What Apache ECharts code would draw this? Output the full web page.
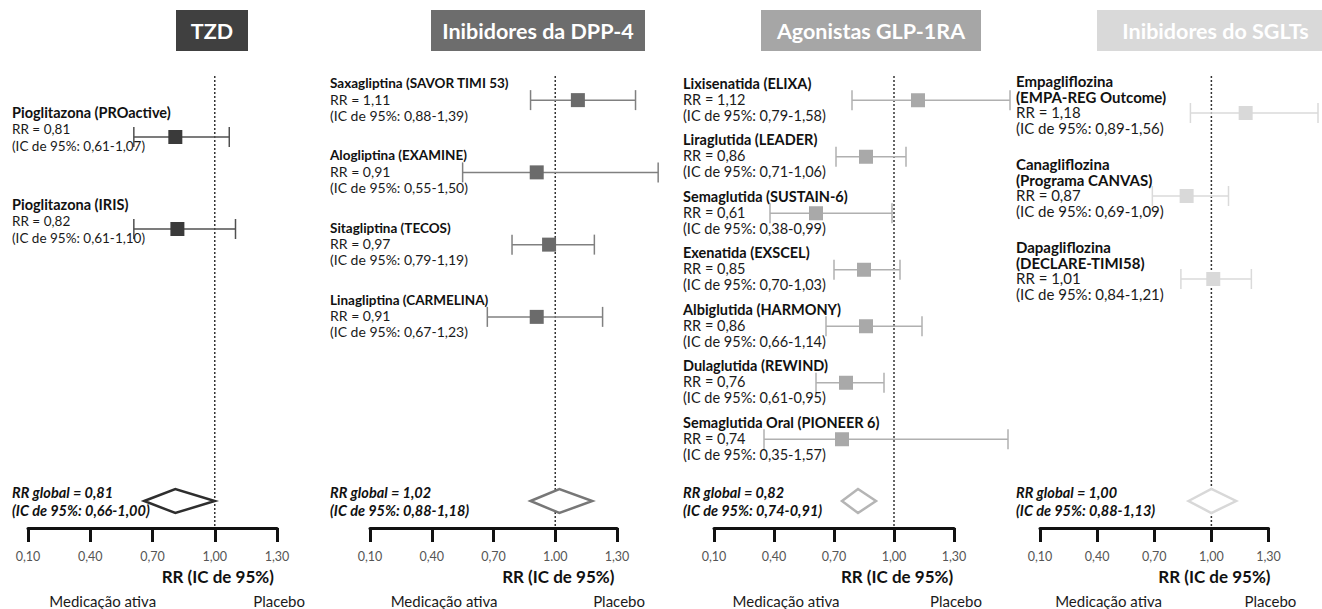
<!DOCTYPE html>
<html>
<head>
<meta charset="utf-8">
<script src="https://cdn.jsdelivr.net/npm/echarts@6/dist/echarts.min.js"></script>
<style>
  html, body { margin: 0; padding: 0; background: #fff; }
  #chart { width: 1322px; height: 609px; }
</style>
</head>
<body>
<div id="chart"></div>
<script>
// ---- data -------------------------------------------------------------
const panelTitles = ['TZD', 'Inibidores da DPP-4', 'Agonistas GLP-1RA', 'Inibidores do SGLTs'];

const tzdTrials = ['Pioglitazona (PROactive)', 'Pioglitazona (IRIS)'];
const tzdRR   = [0.81, 0.82];
const tzdLow  = [0.61, 0.61];
const tzdHigh = [1.07, 1.10];

const dppTrials = ['Saxagliptina (SAVOR TIMI 53)', 'Alogliptina (EXAMINE)', 'Sitagliptina (TECOS)', 'Linagliptina (CARMELINA)'];
const dppRR   = [1.11, 0.91, 0.97, 0.91];
const dppLow  = [0.88, 0.55, 0.79, 0.67];
const dppHigh = [1.39, 1.50, 1.19, 1.23];

const glpTrials = ['Lixisenatida (ELIXA)', 'Liraglutida (LEADER)', 'Semaglutida (SUSTAIN-6)', 'Exenatida (EXSCEL)',
                   'Albiglutida (HARMONY)', 'Dulaglutida (REWIND)', 'Semaglutida Oral (PIONEER 6)'];
const glpRR   = [1.12, 0.86, 0.61, 0.85, 0.86, 0.76, 0.74];
const glpLow  = [0.79, 0.71, 0.38, 0.70, 0.66, 0.61, 0.35];
const glpHigh = [1.58, 1.06, 0.99, 1.03, 1.14, 0.95, 1.57];

const sgltTrials = ['Empagliflozina\n(EMPA-REG Outcome)', 'Canagliflozina\n(Programa CANVAS)', 'Dapagliflozina\n(DECLARE-TIMI58)'];
const sgltRR   = [1.18, 0.87, 1.01];
const sgltLow  = [0.89, 0.69, 0.84];
const sgltHigh = [1.56, 1.09, 1.21];

// pooled estimate of each class
const globalRR   = [0.81, 1.02, 0.82, 1.00];
const globalLow  = [0.66, 0.88, 0.74, 0.88];
const globalHigh = [1.00, 1.18, 0.91, 1.13];

// line of no effect
const noEffectRR = 1.00;

// x axis
const tickValues = [0.10, 0.40, 0.70, 1.00, 1.30];
const tickLabels = [
  ['0,10', '0,40', '0,70', '1,00', '1,30'],
  ['0,10', '0,40', '0,70', '1.00', '1,30'],
  ['0,10', '0,40', '0,70', '1,00', '1,30'],
  ['0,10', '0,40', '0,70', '1,00', '1,30']
];
const axisTitle = 'RR (IC de 95%)';
const favoursLeft = 'Medicação ativa';
const favoursRight = 'Placebo';

// ---- layout & colours ---------------------------------------------------
const FONT = "Lato, 'Open Sans', sans-serif";
const AXIS_MIN = tickValues[0];
const AXIS_MAX = tickValues[tickValues.length - 1];
const AXIS_TOP = 76, AXIS_Y = 528;

const panels = [
  { trials: tzdTrials,  rr: tzdRR,  lo: tzdLow,  hi: tzdHigh },
  { trials: dppTrials,  rr: dppRR,  lo: dppLow,  hi: dppHigh },
  { trials: glpTrials,  rr: glpRR,  lo: glpLow,  hi: glpHigh },
  { trials: sgltTrials, rr: sgltRR, lo: sgltLow, hi: sgltHigh }
];

// per panel: plot extent, text column, row band, type sizes and greys
const look = [
  { left: 28,   width: 249,   textX: 12,   rowTop: 91,   rowH: 184,   shift: -8, bold: 14.5, norm: 13.5, lh: 16.5,
    boxX: 176,  boxW: 72,  boxColor: '#404040', mark: '#3a3a3a', whisker: '#505050', diamond: '#2e2e2e' },
  { left: 370,  width: 247,   textX: 330,  rowTop: 64,   rowH: 289,   shift: -1, bold: 13.5, norm: 14,   lh: 16,
    boxX: 431,  boxW: 214, boxColor: '#6d6d6d', mark: '#6b6b6b', whisker: '#808080', diamond: '#777777' },
  { left: 714,  width: 240,   textX: 683,  rowTop: 72,   rowH: 395.5, shift: -1, bold: 14.5, norm: 14.5, lh: 16,
    boxX: 761,  boxW: 220, boxColor: '#a6a6a6', mark: '#a9a9a9', whisker: '#b0b0b0', diamond: '#b5b5b5' },
  { left: 1040, width: 228.5, textX: 1016, rowTop: 71.5, rowH: 249,   shift: -1, bold: 15,   norm: 15,   lh: 15.5,
    boxX: 1097, boxW: 240, boxColor: '#d9d9d9', mark: '#d9d9d9', whisker: '#dadada', diamond: '#d8d8d8' }
];

const fmt = v => v.toFixed(2).replace('.', ',');
const xAt = (k, v) => look[k].left + (v - AXIS_MIN) / (AXIS_MAX - AXIS_MIN) * look[k].width;

// ---- renderers ------------------------------------------------------------
// one trial: CI whisker with end caps, square at the point estimate, text block on the left
function trialRenderer(k) {
  const L = look[k], P = panels[k];
  return function (params, api) {
    const rr = api.value(0), lo = api.value(1), hi = api.value(2), row = api.value(3);
    const c = api.coord([rr, row]);
    const a = api.coord([lo, row]);
    const b = api.coord([hi, row]);
    const y = c[1], half = 7, cap = 10, lh = L.lh;
    const nameLines = P.trials[params.dataIndex].split('\n');
    const text = nameLines.map(s => '{b|' + s + '}').join('\n') +
      '\n{n|RR = ' + fmt(rr) + '}\n{n|(IC de 95%: ' + fmt(lo) + '-' + fmt(hi) + ')}';
    const ls = { stroke: L.whisker, lineWidth: 1.5 };
    return {
      type: 'group',
      children: [
        { type: 'line', shape: { x1: a[0], y1: y, x2: b[0], y2: y }, style: ls },
        { type: 'line', shape: { x1: a[0], y1: y - cap, x2: a[0], y2: y + cap }, style: ls },
        { type: 'line', shape: { x1: b[0], y1: y - cap, x2: b[0], y2: y + cap }, style: ls },
        { type: 'rect', shape: { x: c[0] - half, y: y - half, width: 2 * half, height: 2 * half },
          style: { fill: L.mark } },
        { type: 'text', x: L.textX, y: y + L.shift - (nameLines.length + 0.5) * lh,
          style: {
            text: text, align: 'left', verticalAlign: 'top',
            rich: {
              b: { fontFamily: FONT, fontWeight: 'bold', fontSize: L.bold, lineHeight: lh, fill: '#111111' },
              n: { fontFamily: FONT, fontWeight: 'normal', fontSize: L.norm, lineHeight: lh, fill: '#1a1a1a' }
            }
          } }
      ]
    };
  };
}

// pooled estimate: open diamond just above the axis, with its caption
function pooledRenderer(k) {
  const L = look[k];
  return function (params, api) {
    const rr = api.value(0), lo = api.value(1), hi = api.value(2);
    const cs = params.coordSys;
    const y = cs.y + cs.height - 27, h = 12;
    const xm = api.coord([rr, 0])[0], xl = api.coord([lo, 0])[0], xh = api.coord([hi, 0])[0];
    return {
      type: 'group',
      children: [
        { type: 'polygon', shape: { points: [[xl, y], [xm, y - h], [xh, y], [xm, y + h]] },
          style: { fill: '#ffffff', stroke: L.diamond, lineWidth: 2.5 } },
        { type: 'text', x: L.textX, y: y - 17.5,
          style: {
            text: 'RR global = ' + fmt(rr) + '\n(IC de 95%: ' + fmt(lo) + '-' + fmt(hi) + ')',
            fontFamily: FONT, fontWeight: 'bold', fontStyle: 'italic', fontSize: 14.5, lineHeight: 18,
            fill: '#111111', align: 'left', verticalAlign: 'top'
          } }
      ]
    };
  };
}

// dotted vertical line at RR = 1
function noEffectRenderer(params, api) {
  const cs = params.coordSys;
  const x = api.coord([api.value(0), 0])[0];
  return { type: 'line', shape: { x1: x, y1: cs.y, x2: x, y2: cs.y + cs.height },
           style: { stroke: '#333333', lineWidth: 1.5, lineDash: [2, 2] } };
}

// ---- option ---------------------------------------------------------------
const grid = [], xAxis = [], yAxis = [], series = [], graphic = [];

panels.forEach((P, k) => {
  const L = look[k];
  const gAxis = k * 2, gRows = k * 2 + 1;

  // grid holding the visible axis, pooled diamond and line of no effect
  grid.push({ left: L.left, width: L.width, top: AXIS_TOP, height: AXIS_Y - AXIS_TOP, outerBoundsMode: 'none' });
  xAxis.push({
    gridIndex: gAxis, type: 'value', min: AXIS_MIN, max: AXIS_MAX, interval: 0.3,
    axisLine: { show: true, lineStyle: { color: '#111111', width: 3 } },
    axisTick: { show: true, length: 14, lineStyle: { color: '#111111', width: 3 } },
    axisLabel: {
      margin: 22, color: '#555555', fontSize: 12.5, fontFamily: FONT,
      formatter: v => {
        const i = tickValues.findIndex(t => Math.abs(t - v) < 1e-6);
        return i >= 0 ? tickLabels[k][i] : '';
      }
    },
    splitLine: { show: false }
  });
  yAxis.push({ gridIndex: gAxis, type: 'value', min: 0, max: 1, show: false });

  // grid holding one row per trial
  grid.push({ left: L.left, width: L.width, top: L.rowTop, height: L.rowH, outerBoundsMode: 'none' });
  xAxis.push({ gridIndex: gRows, type: 'value', min: AXIS_MIN, max: AXIS_MAX, show: false });
  yAxis.push({ gridIndex: gRows, type: 'category', inverse: true, show: false,
               data: P.trials.map((t, i) => i) });

  series.push({
    type: 'custom', name: 'ref' + k, xAxisIndex: gAxis, yAxisIndex: gAxis, silent: true, z: 1,
    renderItem: noEffectRenderer, data: [[noEffectRR, 0]], encode: { x: 0, y: 1 }
  });
  series.push({
    type: 'custom', name: 'global' + k, xAxisIndex: gAxis, yAxisIndex: gAxis, silent: true, z: 2,
    renderItem: pooledRenderer(k),
    data: [[globalRR[k], globalLow[k], globalHigh[k], 0]], encode: { x: [0, 1, 2], y: 3 }
  });
  series.push({
    type: 'custom', name: 'trials' + k, xAxisIndex: gRows, yAxisIndex: gRows, silent: true, z: 3,
    renderItem: trialRenderer(k),
    data: P.rr.map((v, i) => [v, P.lo[i], P.hi[i], i]), encode: { x: [0, 1, 2], y: 3 }
  });

  // class header
  graphic.push({ type: 'rect', x: L.boxX, y: 10, shape: { x: 0, y: 0, width: L.boxW, height: 41 },
                 style: { fill: L.boxColor } });
  graphic.push({ type: 'text', x: L.boxX + Math.min(L.boxW, 1322 - L.boxX + 12) / 2, y: 31,
                 style: { text: panelTitles[k], fill: '#ffffff', font: 'bold 21.5px ' + FONT,
                          align: 'center', verticalAlign: 'middle' } });
  // axis caption and direction notes
  graphic.push({ type: 'text', x: xAt(k, 1.0) + 3, y: 576,
                 style: { text: axisTitle, fill: '#111111', font: 'bold 17px ' + FONT,
                          align: 'center', verticalAlign: 'middle' } });
  graphic.push({ type: 'text', x: xAt(k, 0.46), y: 601,
                 style: { text: favoursLeft, fill: '#1a1a1a', font: '15px ' + FONT,
                          align: 'center', verticalAlign: 'middle' } });
  graphic.push({ type: 'text', x: Math.min(xAt(k, 1.31), 1294), y: 601,
                 style: { text: favoursRight, fill: '#1a1a1a', font: '15px ' + FONT,
                          align: 'center', verticalAlign: 'middle' } });
});

const chart = echarts.init(document.getElementById('chart'), null, { renderer: 'svg' });
chart.setOption({
  backgroundColor: '#ffffff',
  animation: false,
  textStyle: { fontFamily: FONT },
  grid, xAxis, yAxis, series, graphic
});
</script>
</body>
</html>
